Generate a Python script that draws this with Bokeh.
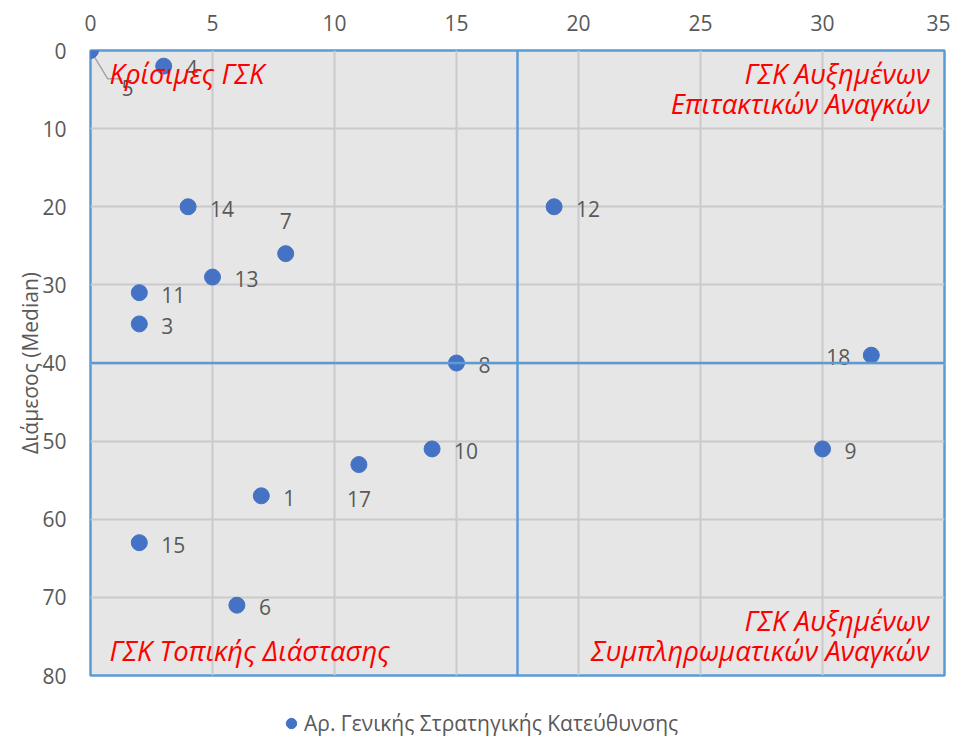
from bokeh.plotting import figure
from bokeh.layouts import column
from bokeh.models import (ColumnDataSource, Range1d, FixedTicker,
                          Legend, LegendItem, Span)
from bokeh.core.properties import value
from bokeh.embed import file_html
from bokeh.resources import INLINE

# ---- data ----
ids = ["1", "3", "4", "5", "6", "7", "8", "9", "10", "11", "12", "13", "14", "15", "17", "18"]
x_vals = [7, 2, 3, 0, 6, 8, 15, 30, 14, 2, 19, 5, 4, 2, 11, 32]
y_vals = [57, 35, 2, 0, 71, 26, 40, 51, 51, 31, 20, 29, 20, 63, 53, 39]
x_split = 17.5
y_split = 40
x_ticks = [0, 5, 10, 15, 20, 25, 30, 35]
y_ticks = [0, 10, 20, 30, 40, 50, 60, 70, 80]
series_name = "Αρ. Γενικής Στρατηγικής Κατεύθυνσης"
y_title = "Διάμεσος (Median)"
q_top_left = "Κρίσιμες ΓΣΚ"
q_top_right = ["ΓΣΚ Αυξημένων", "Επιτακτικών Αναγκών"]
q_bot_left = "ΓΣΚ Τοπικής Διάστασης"
q_bot_right = ["ΓΣΚ Αυξημένων", "Συμπληρωματικών Αναγκών"]

# label placement per point (style, not data)
placement = {"7": "above", "17": "below", "18": "left", "5": "leader"}

FONT = "Open Sans"
GREY = "#595959"
BLUE = "#4472C4"
FRAME = "#5B9BD5"

p = figure(frame_width=854, frame_height=625, output_backend="svg", toolbar_location=None,
           x_range=Range1d(0, 35), y_range=Range1d(80, 0),
           x_axis_location="above",
           min_border_left=90, min_border_right=6, min_border_top=50, min_border_bottom=16)
p.background_fill_color = "#E7E6E6"
p.border_fill_color = "white"
p.outline_line_color = FRAME
p.outline_line_width = 2.5

for ax in (p.xaxis[0], p.yaxis[0]):
    ax.axis_line_color = None
    ax.major_tick_line_color = None
    ax.minor_tick_line_color = None
    ax.major_label_text_font = FONT
    ax.major_label_text_font_size = "21px"
    ax.major_label_text_color = GREY
p.xaxis.ticker = FixedTicker(ticks=x_ticks)
p.yaxis.ticker = FixedTicker(ticks=y_ticks)
p.xaxis.major_label_standoff = 14
p.yaxis.major_label_standoff = 18
p.yaxis.axis_label = y_title
p.yaxis.axis_label_text_font = FONT
p.yaxis.axis_label_text_font_size = "21px"
p.yaxis.axis_label_text_font_style = "normal"
p.yaxis.axis_label_text_color = GREY
p.yaxis.axis_label_standoff = -5

p.xgrid.ticker = FixedTicker(ticks=x_ticks)
p.ygrid.ticker = FixedTicker(ticks=y_ticks)
p.grid.grid_line_color = "#CACACA"
p.grid.grid_line_width = 2

# quadrant lines
p.add_layout(Span(location=x_split, dimension="height", line_color=FRAME, line_width=2.5))
p.add_layout(Span(location=y_split, dimension="width", line_color=FRAME, line_width=2.5))

# leader line for label "5"
i5 = ids.index("5")
lx = [x_vals[i5], x_vals[i5] + 0.7, x_vals[i5] + 1.3]
ly = [y_vals[i5], y_vals[i5] + 3.6, y_vals[i5] + 3.6]
p.line(lx, ly, line_color="#A6A6A6", line_width=1.5)

src = ColumnDataSource(dict(x=x_vals, y=y_vals, id=ids))
pts = p.scatter("x", "y", source=src, size=16, fill_color=BLUE, line_color=BLUE)

# data labels
def sub(cond):
    idx = [i for i, k in enumerate(ids) if cond(k)]
    return ColumnDataSource(dict(x=[x_vals[i] for i in idx], y=[y_vals[i] for i in idx],
                                 t=[ids[i] for i in idx]))

common = dict(text="t", text_font=value(FONT), text_font_size="21px", text_color=GREY)
p.text("x", "y", source=sub(lambda k: k not in placement), x_offset=22, y_offset=2,
       text_align="left", text_baseline="middle", **common)
p.text("x", "y", source=sub(lambda k: placement.get(k) == "above"), x_offset=0, y_offset=-33,
       text_align="center", text_baseline="middle", **common)
p.text("x", "y", source=sub(lambda k: placement.get(k) == "below"), x_offset=0, y_offset=34,
       text_align="center", text_baseline="middle", **common)
p.text("x", "y", source=sub(lambda k: placement.get(k) == "left"), x_offset=-21, y_offset=2,
       text_align="right", text_baseline="middle", **common)
p.text("x", "y", source=sub(lambda k: placement.get(k) == "leader"), x_offset=37, y_offset=37,
       text_align="center", text_baseline="middle", **common)

# quadrant labels
qstyle = dict(text_font=value(FONT), text_font_size="27.5px", text_font_style="italic",
              text_color="#FF0000", text_baseline="middle")
x0, x1 = p.x_range.start, p.x_range.end
ytop, ybot = p.y_range.end, p.y_range.start
p.text([x0], [ytop], text=[q_top_left], x_offset=19, y_offset=23, text_align="left", **qstyle)
p.text([x1, x1], [ytop, ytop], text=q_top_right, x_offset=[-15, -15], y_offset=[23, 53],
       text_align="right", **qstyle)
p.text([x0], [ybot], text=[q_bot_left], x_offset=19, y_offset=-25, text_align="left", **qstyle)
p.text([x1, x1], [ybot, ybot], text=q_bot_right, x_offset=[-15, -15], y_offset=[-55, -25],
       text_align="right", **qstyle)

# legend strip below the plot
lg = figure(width=950, height=46, output_backend="svg", toolbar_location=None,
            x_range=Range1d(0, 1), y_range=Range1d(0, 1), min_border=0,
            x_axis_location=None, y_axis_location=None)
lg.grid.visible = False
lg.outline_line_color = None
# off-range proxy glyph so the legend swatch matches the series style
dummy = lg.scatter(x=[x_vals[0]], y=[y_vals[0]], size=15, fill_color=BLUE, line_color=BLUE)
legend = Legend(items=[LegendItem(label=series_name, renderers=[dummy])],
                orientation="horizontal", location=(188, 0),
                label_text_font=FONT, label_text_font_size="21px", label_text_color=GREY,
                border_line_color=None, background_fill_alpha=0,
                glyph_width=26, glyph_height=26, label_standoff=0, margin=0, padding=0)
lg.add_layout(legend, "center")

layout = column(p, lg, spacing=0)
open("out.html", "w").write(file_html(layout, INLINE))
